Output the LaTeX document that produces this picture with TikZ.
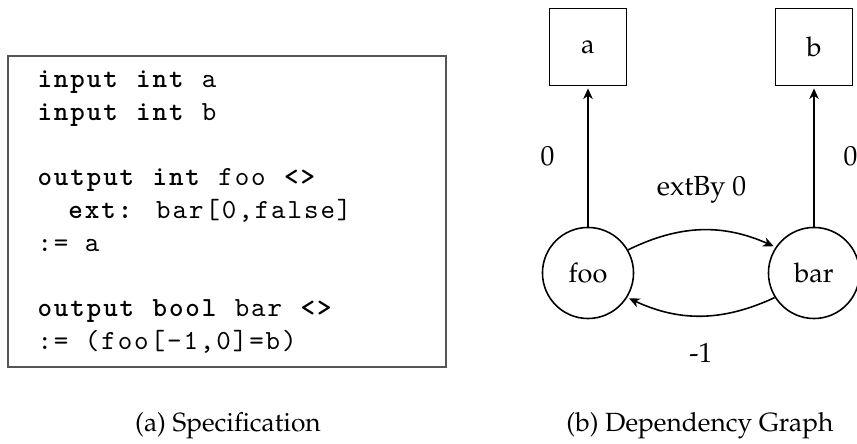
\documentclass[tikz,border=0pt]{standalone}
\usepackage{fontspec}
\usepackage[T1]{fontenc}
\usepackage{mathpazo}
\usepackage{tikz}
\usetikzlibrary{arrows.meta}
\newfontfamily\codefont{lmmono10-regular}[Extension=.otf, BoldFont=lmmonolt10-bold, LetterSpace=7]
\definecolor{boxgray}{RGB}{85, 85, 85}
\tikzset{
    specbox/.style={draw=boxgray, line width=0.6pt},
    codeline/.style={anchor=base west, inner sep=0pt, font=\codefont\fontsize{10.5}{13}\selectfont},
    inputnode/.style={rectangle, draw, line width=0.6pt, minimum size=29.3pt, inner sep=0pt, font=\fontsize{10.3}{12}\selectfont},
    outputnode/.style={circle, draw, line width=0.6pt, minimum size=34.6pt, inner sep=0pt, font=\fontsize{10.3}{12}\selectfont},
    depedge/.style={-{Stealth[length=4pt, width=3.6pt, inset=1.2pt]}, line width=0.6pt, shorten >=0.8pt},
    weight/.style={inner sep=0pt, font=\fontsize{10.5}{12}\selectfont},
    subcaption/.style={anchor=base, inner sep=0pt, font=\fontsize{10}{12}\selectfont}
}
\newcommand{\kw}[1]{\textbf{#1}}

\begin{document}
\begin{tikzpicture}[x=0.38pt, y=0.38pt]
    \useasboundingbox (0,0) rectangle (857,444);
    % specification
    \draw[specbox] (8,77) rectangle (446,388);
    \foreach \row/\code [count=\i] in {0/{\kw{input} \kw{int} a}, 1/{\kw{input} \kw{int} b},
        3/{\kw{output} \kw{int} foo \kw{<>}}, 4/{\hphantom{xx}\kw{ext:} bar[0,false]}, 5/{:= a},
        7/{\kw{output} \kw{bool} bar \kw{<>}}, 8/{:= (foo[-1,0]=b)}}
        \node[codeline] (line\i) at (37, 356-32.65*\row) {\code};
    \node[subcaption] (capa) at (228,12) {(a) Specification};

    % dependency graph
    \node[inputnode] (a) at (588,397) {a};
    \node[inputnode] (b) at (814,397) {b};
    \node[outputnode] (foo) at (588,171) {foo};
    \node[outputnode] (bar) at (814,171) {bar};
    \draw[depedge] (foo) -- node[weight, left=12.5pt] {0} (a);
    \draw[depedge] (bar) -- node[weight, right=11pt] {0} (b);
    \draw[depedge] (foo.30) to[bend left=25] node[weight, above=10pt] {extBy 0} (bar.146);
    \draw[depedge] (bar.212) to[bend left=25] node[weight, below=10pt] {-1} (foo.-32);
    \node[subcaption] (capb) at (700,12) {(b) Dependency Graph};
\end{tikzpicture}
\end{document}
